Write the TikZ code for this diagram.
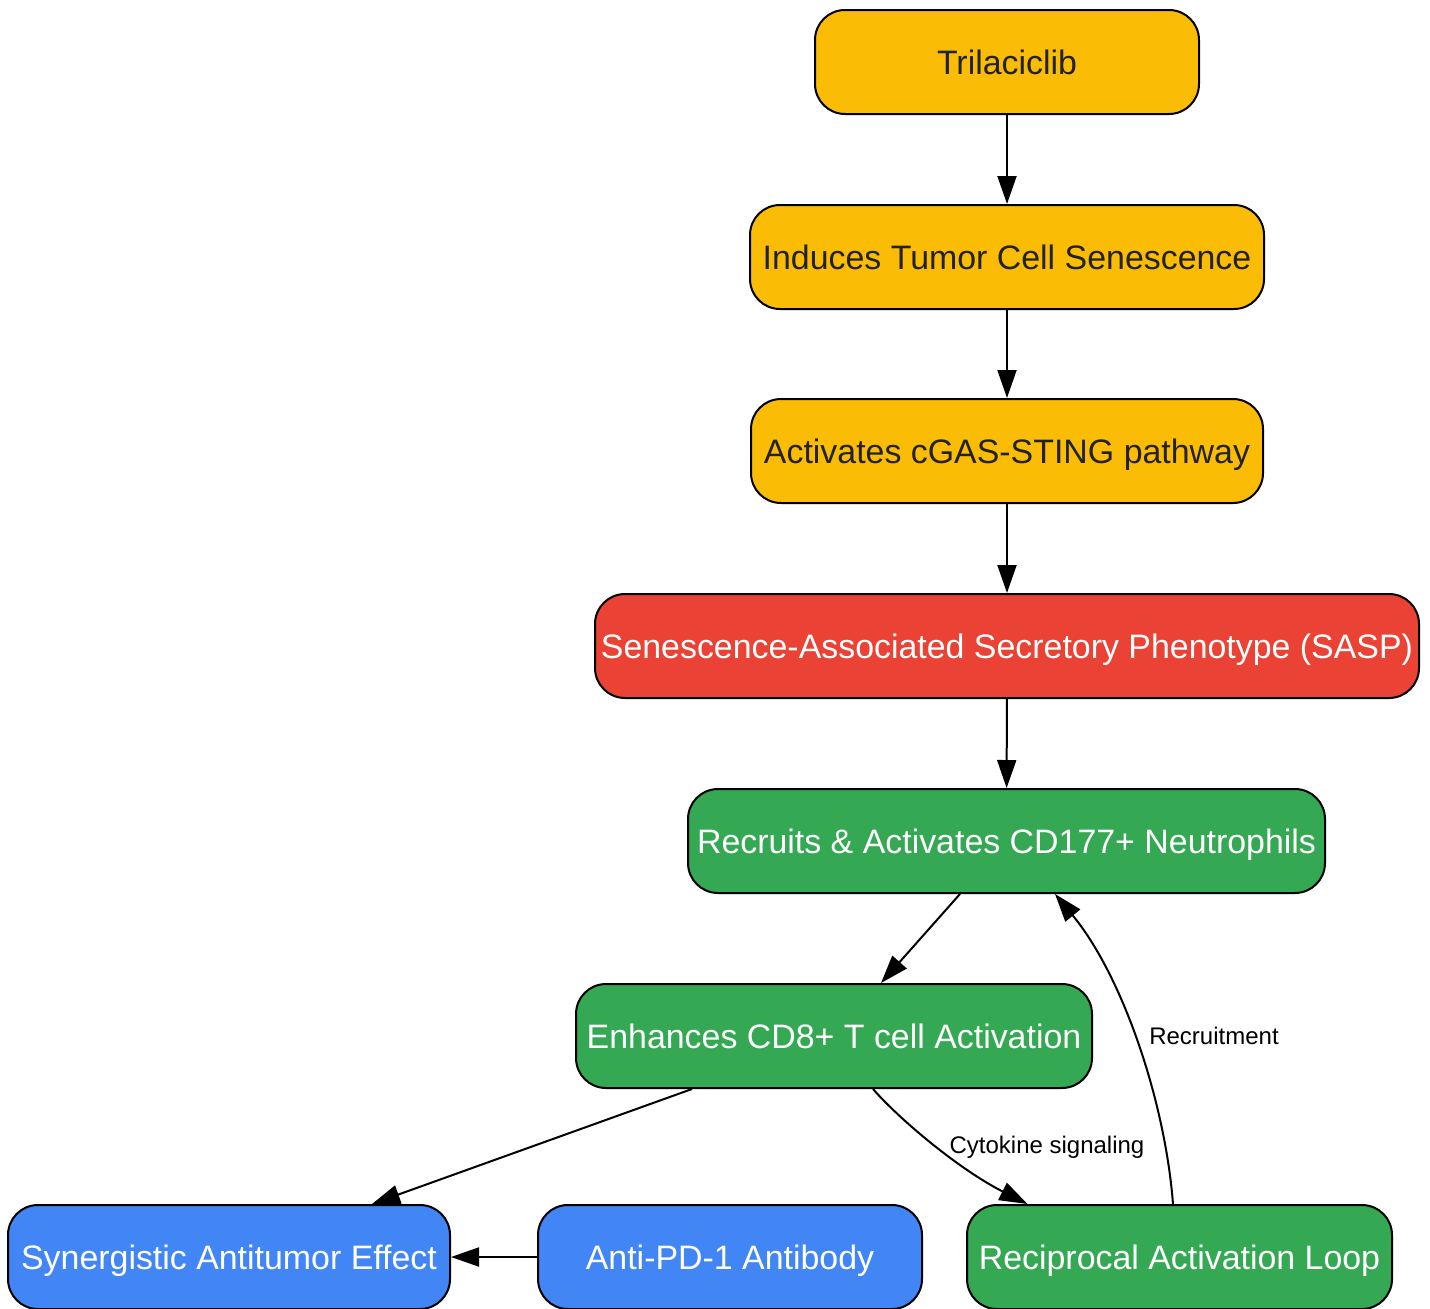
\documentclass[tikz,border=0pt]{standalone}
\usepackage{fontspec}
\setmainfont{Liberation Sans}
\usetikzlibrary{arrows.meta,calc}
\definecolor{gyellow}{HTML}{FBBC05}
\definecolor{gred}{HTML}{EA4335}
\definecolor{ggreen}{HTML}{34A853}
\definecolor{gblue}{HTML}{4285F4}
\definecolor{darktext}{HTML}{222222}
\begin{document}
\begin{tikzpicture}[x=1pt,y=-1pt,
  box/.style={draw=black,line width=2pt,rounded corners=30pt,minimum height=104pt,inner sep=0pt,
    text height=24pt,text depth=0pt,font=\fontsize{33.9}{40}\selectfont},
  ybox/.style={box,fill=gyellow,text=darktext},
  rbox/.style={box,fill=gred,text=white},
  gbox/.style={box,fill=ggreen,text=white},
  bbox/.style={box,fill=gblue,text=white},
  conn/.style={line width=2pt,-{Triangle[length=28pt,width=19pt]}},
  elabel/.style={font=\fontsize{24}{28}\selectfont,text=black}]
\useasboundingbox (0,0) rectangle (1430,1309);
\node[ybox,minimum width=384pt] (tri) at (1007,62) {Trilaciclib};
\node[ybox,minimum width=514pt] (ind) at (1007,257) {Induces Tumor Cell Senescence};
\node[ybox,minimum width=512pt] (act) at (1007,451) {Activates cGAS-STING pathway};
\node[rbox,minimum width=824pt] (sasp) at (1007,646) {Senescence-Associated Secretory Phenotype (SASP)};
\node[gbox,minimum width=637pt] (rec) at (1006.5,841) {Recruits \& Activates CD177+ Neutrophils};
\node[gbox,minimum width=516pt] (enh) at (834,1036) {Enhances CD8+ T cell Activation};
\node[bbox,minimum width=442pt] (syn) at (229,1257) {Synergistic Antitumor Effect};
\node[bbox,minimum width=384pt] (pd1) at (730,1257) {Anti-PD-1 Antibody};
\node[gbox,minimum width=425pt] (loop) at (1179.5,1257) {Reciprocal Activation Loop};

\draw[conn] (tri) -- (ind);
\draw[conn] (ind) -- (act);
\draw[conn] (act) -- (sasp);
\draw[conn] (sasp) -- (rec);
\draw[conn] ($(rec.south)+(-46.5,0)$) -- ($(enh.north)+(47,0)$);
\draw[conn] ($(enh.south)+(-142,0)$) -- ($(syn.north)+(143,0)$);
\draw[conn] (pd1) -- (syn);
\draw[conn] ($(enh.south)+(39,0)$) .. controls (900,1120) and (960,1170) .. ($(loop.north)+(-152,0)$);
\node[elabel] (lcyt) at (1047,1147) {Cytokine signaling};
\draw[conn] ($(loop.north)+(-6.5,0)$) .. controls (1165,1100) and (1122,975) .. ($(rec.south)+(48.5,0)$);
\node[elabel] (lrec) at (1214,1036) {Recruitment};
\end{tikzpicture}
\end{document}
